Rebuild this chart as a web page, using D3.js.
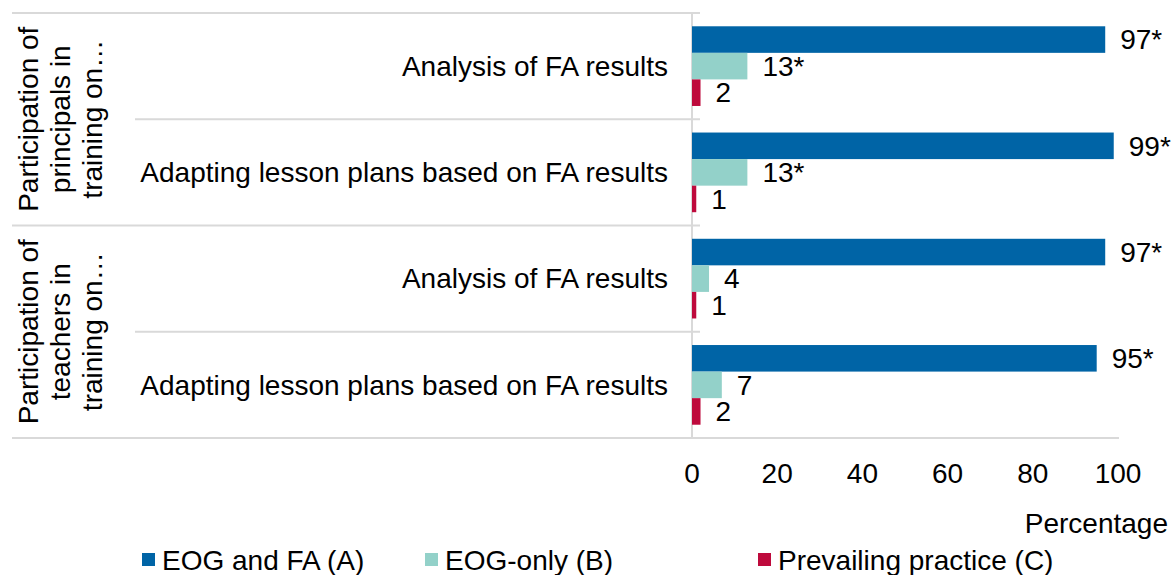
<!DOCTYPE html>
<html>
<head>
<meta charset="utf-8">
<script src="https://cdn.jsdelivr.net/npm/d3@7"></script>
<style>
  body { margin: 0; background: #fff; }
  svg { display: block; font-family: "Liberation Sans", Arial, sans-serif; }
</style>
</head>
<body>
<div id="chart"></div>
<script>
// data
const groups = [
    ["Participation of", "principals in", "training on…"],
    ["Participation of", "teachers in", "training on…"]
];
const categories = [
    "Analysis of FA results",
    "Adapting lesson plans based on FA results",
    "Analysis of FA results",
    "Adapting lesson plans based on FA results"
];
const categoryGroup = [0, 0, 1, 1];
const seriesNames = ["EOG and FA (A)", "EOG-only (B)", "Prevailing practice (C)"];
const seriesColors = ["#0064a6", "#93d1c9", "#be0a3c"];
const valuesA = [97, 99, 97, 95];
const valuesB = [13, 13, 4, 7];
const valuesC = [2, 1, 1, 2];
const starsA = [true, true, true, true];
const starsB = [true, true, false, false];
const starsC = [false, false, false, false];
const xTicks = [0, 20, 40, 60, 80, 100];
const xTitle = "Percentage";

const width = 1173;
const height = 575;
const fontSize = 28;
const gridColor = "#d9d9d9";

const seriesValues = [valuesA, valuesB, valuesC];
const seriesStars = [starsA, starsB, starsC];

const svg = d3.select('#chart')
    .append('svg')
    .attr('width', width)
    .attr('height', height);

const x = d3.scaleLinear()
    .domain([0, 100])
    .range([692, 1118]);

const y = d3.scaleBand()
    .domain(d3.range(categories.length))
    .range([13, 438]);

const ySeries = d3.scaleBand()
    .domain(d3.range(seriesNames.length))
    .range([0, y.bandwidth()])
    .paddingInner(0)
    .paddingOuter(0.5);

// separators between categories / groups
const lines = svg.append('g');
categories.forEach((c, i) => {
    const groupStart = i === 0 || categoryGroup[i] !== categoryGroup[i - 1];
    lines.append('line')
        .attr('x1', groupStart ? 12 : 135)
        .attr('x2', 700)
        .attr('y1', y(i))
        .attr('y2', y(i))
        .attr('stroke', gridColor)
        .attr('stroke-width', 2);
});
lines.append('line')
    .attr('x1', 12)
    .attr('x2', x(100) + 1)
    .attr('y1', y.range()[1])
    .attr('y2', y.range()[1])
    .attr('stroke', gridColor)
    .attr('stroke-width', 2);
lines.append('line')
    .attr('x1', x(0))
    .attr('x2', x(0))
    .attr('y1', y.range()[0])
    .attr('y2', y.range()[1])
    .attr('stroke', gridColor)
    .attr('stroke-width', 2);

// bars and value labels
seriesValues.forEach((vals, s) => {
    const g = svg.append('g');
    g.selectAll('rect')
        .data(vals)
        .enter()
        .append('rect')
        .attr('x', x(0))
        .attr('y', (d, i) => y(i) + ySeries(s))
        .attr('width', d => x(d) - x(0))
        .attr('height', ySeries.bandwidth())
        .attr('fill', seriesColors[s]);

    g.selectAll('text')
        .data(vals)
        .enter()
        .append('text')
        .attr('x', d => x(d) + 15)
        .attr('y', (d, i) => y(i) + ySeries(s) + ySeries.bandwidth() / 2)
        .attr('dy', '0.35em')
        .attr('font-size', fontSize)
        .attr('fill', '#000')
        .text((d, i) => d + (seriesStars[s][i] ? '*' : ''));
});

// category labels
svg.append('g')
    .selectAll('text')
    .data(categories)
    .enter()
    .append('text')
    .attr('x', 668)
    .attr('y', (d, i) => y(i) + y.bandwidth() / 2)
    .attr('dy', '0.35em')
    .attr('text-anchor', 'end')
    .attr('font-size', fontSize)
    .text(d => d);

// group labels (rotated)
groups.forEach((lns, gi) => {
    const idx = categoryGroup.map((g, i) => g === gi ? i : -1).filter(i => i >= 0);
    const y0 = y(idx[0]);
    const y1 = y(idx[idx.length - 1]) + y.bandwidth();
    const cy = (y0 + y1) / 2;
    const t = svg.append('text')
        .attr('transform', `translate(38, ${cy}) rotate(-90)`)
        .attr('text-anchor', 'middle')
        .attr('font-size', fontSize);
    lns.forEach((l, li) => {
        t.append('tspan')
            .attr('x', 0)
            .attr('y', li * 32)
            .text(l);
    });
});

// x axis tick labels
svg.append('g')
    .selectAll('text')
    .data(xTicks)
    .enter()
    .append('text')
    .attr('x', d => x(d))
    .attr('y', 483)
    .attr('text-anchor', 'middle')
    .attr('font-size', fontSize)
    .text(d => d);

svg.append('text')
    .attr('x', 1168)
    .attr('y', 533)
    .attr('text-anchor', 'end')
    .attr('font-size', fontSize)
    .text(xTitle);

// legend
const legendX = [142, 425, 758];
const legend = svg.append('g');
seriesNames.forEach((name, i) => {
    legend.append('rect')
        .attr('x', legendX[i])
        .attr('y', 553)
        .attr('width', 13)
        .attr('height', 13)
        .attr('fill', seriesColors[i]);
    legend.append('text')
        .attr('x', legendX[i] + 20)
        .attr('y', 570)
        .attr('font-size', fontSize)
        .text(name);
});
</script>
</body>
</html>
